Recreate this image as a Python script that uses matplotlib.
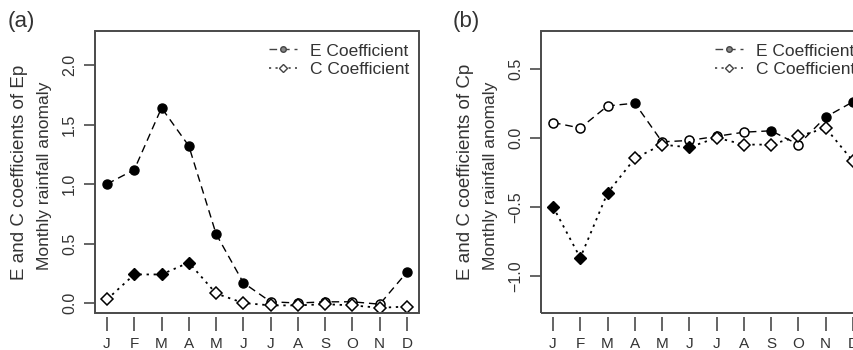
import numpy as np
import matplotlib
matplotlib.use("Agg")
import matplotlib.pyplot as plt
from matplotlib.patches import Rectangle

plt.rcParams['font.family'] = ['Liberation Sans', 'DejaVu Sans']

months = ["J", "F", "M", "A", "M", "J", "J", "A", "S", "O", "N", "D"]

# panel (a): Ep
e_ep = [1.00, 1.12, 1.64, 1.32, 0.58, 0.17, 0.01, 0.00, 0.01, 0.01, -0.01, 0.26]
e_ep_sig = [1, 1, 1, 1, 1, 1, 0, 0, 0, 0, 0, 1]
c_ep = [0.03, 0.24, 0.24, 0.34, 0.08, 0.00, -0.02, -0.02, -0.01, -0.02, -0.04, -0.03]
c_ep_sig = [0, 1, 1, 1, 0, 0, 0, 0, 0, 0, 0, 0]

# panel (b): Cp
e_cp = [0.11, 0.07, 0.23, 0.25, -0.03, -0.02, 0.01, 0.04, 0.05, -0.05, 0.15, 0.26]
e_cp_sig = [0, 0, 0, 1, 0, 0, 0, 0, 1, 0, 1, 1]
c_cp = [-0.50, -0.87, -0.40, -0.15, -0.05, -0.07, 0.00, -0.05, -0.05, 0.01, 0.07, -0.17]
c_cp_sig = [1, 1, 1, 0, 0, 1, 0, 0, 0, 0, 0, 0]

BOX = "#4a4a4a"
TXT = "#333333"
DASH = (0, (5.5, 3.5))
DOT = (0, (1.3, 2.6))


def draw_series(ax, vals, sig, ls, lw, marker, ms):
    x = np.arange(1, 13)
    vals = np.array(vals)
    sig = np.array(sig, dtype=bool)
    ax.plot(x, vals, ls=ls, color="black", lw=lw, zorder=2)
    ax.plot(x[sig], vals[sig], ls="none", marker=marker, ms=ms,
            mfc="black", mec="black", mew=1.0, zorder=3)
    ax.plot(x[~sig], vals[~sig], ls="none", marker=marker, ms=ms,
            mfc="white", mec="black", mew=1.1, zorder=3)


def legend_handles(ax):
    h1, = ax.plot([], [], ls=DASH, color="#444444", lw=1.0, marker="o", ms=4,
                  mfc="#888888", mec="#444444")
    h2, = ax.plot([], [], ls=DOT, color="#444444", lw=1.2, marker="D", ms=3.8,
                  mfc="white", mec="#444444")
    return [h1, h2]


def setup_panel(ax, ylim, yticks, label, sub, tag, tag_x):
    ax.set_xlim(0.56, 12.44)
    ax.set_ylim(*ylim)
    for s in ax.spines.values():
        s.set_visible(False)
    ax.spines['bottom'].set_position(('outward', 3))
    ax.add_patch(Rectangle((0, 0), 1, 1, transform=ax.transAxes, fill=False,
                           ec=BOX, lw=1.4, clip_on=False, zorder=5))
    ax.set_xticks(np.arange(1, 13))
    ax.set_xticklabels(months, fontsize=11, color=TXT)
    ax.set_yticks(yticks)
    ax.set_yticklabels([f"{t:.1f}".replace("-", "\u2212") for t in yticks],
                       rotation=90, va="center", fontsize=11.5, color=TXT)
    ax.tick_params(axis='x', length=10, width=1.2, color=BOX, pad=4)
    ax.tick_params(axis='y', length=8, width=1.2, color=BOX, pad=5)
    leg = ax.legend(handles=legend_handles(ax),
                    labels=["E Coefficient", "C Coefficient"],
                    loc="upper right", bbox_to_anchor=(1.0, 0.99),
                    frameon=False, fontsize=12.5,
                    handlelength=1.6, handletextpad=0.75, borderaxespad=0.15,
                    labelspacing=0.2, numpoints=1)
    for t in leg.get_texts():
        t.set_color(TXT)
    fig = ax.figure
    bb = ax.get_position()
    fig.text(tag_x, 0.94, tag, fontsize=16, color=TXT, ha="left", va="center")
    fig.text(bb.x0 - 75 / 854, (bb.y0 + bb.y1) / 2, label, rotation=90,
             fontsize=13.5, color=TXT, ha="center", va="center")
    fig.text(bb.x0 - 50 / 854, (bb.y0 + bb.y1) / 2 - 0.012, sub, rotation=90,
             fontsize=12.5, color=TXT, ha="center", va="center")


fig = plt.figure(figsize=(8.54, 3.5), dpi=100)
W, H = 854, 350
ax1 = fig.add_axes([95 / W, (H - 313) / H, 324 / W, 282 / H])
ax2 = fig.add_axes([541 / W, (H - 313) / H, 324 / W, 282 / H])

draw_series(ax1, e_ep, e_ep_sig, DASH, 1.0, "o", 6.5)
draw_series(ax1, c_ep, c_ep_sig, DOT, 1.3, "D", 6.5)
setup_panel(ax1, (-0.084, 2.286), [0.0, 0.5, 1.0, 1.5, 2.0],
            "E and C coefficients of Ep", "Monthly rainfall anomaly", "(a)", 8 / W)

draw_series(ax2, e_cp, e_cp_sig, DASH, 1.0, "o", 6.5)
draw_series(ax2, c_cp, c_cp_sig, DOT, 1.3, "D", 6.5)
setup_panel(ax2, (-1.27, 0.773), [-1.0, -0.5, 0.0, 0.5],
            "E and C coefficients of Cp", "Monthly rainfall anomaly", "(b)", 453 / W)

fig.savefig("out.png", dpi=100)
